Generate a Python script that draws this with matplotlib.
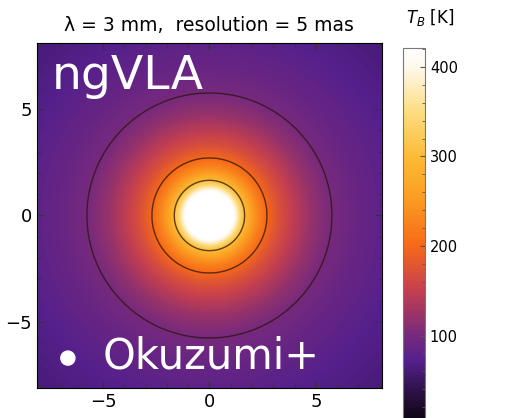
import numpy as np
import matplotlib.pyplot as plt
from matplotlib.colors import LinearSegmentedColormap
from matplotlib.patches import Circle

# radial brightness profile (r in image units, T_B in K)
r_prof = [0.0, 0.6, 1.0, 1.2, 1.4, 1.65, 2.0, 2.3, 2.7, 3.3, 4.0, 4.8, 5.75, 7.0, 8.0, 9.5, 11.5]
tb_prof = [520, 490, 440, 405, 350, 300, 255, 228, 200, 170, 145, 120, 100, 88, 80, 70, 62]

levels = [100, 200, 300]
cbar_ticks = [0, 100, 200, 300, 400]
ax_ticks = [-5, 0, 5]
beam_xy = (-6.65, -6.7)

cmap = LinearSegmentedColormap.from_list("tb", [
    (0.00, "#08040e"),
    (0.08, "#2a1040"),
    (0.17, "#55208c"),
    (0.24, "#782a7c"),
    (0.36, "#c6404e"),
    (0.48, "#f76a18"),
    (0.60, "#fb9c22"),
    (0.71, "#fcba34"),
    (0.83, "#fddc80"),
    (0.95, "#fff8ea"),
    (1.00, "#ffffff"),
])

# build the map from the profile
x = np.linspace(-8.1, 8.1, 400)
X, Y = np.meshgrid(x, x)
R = np.hypot(X, Y)
T = np.interp(R, r_prof, tb_prof)

fig = plt.figure(figsize=(5.13, 4.18), dpi=100)
ax = fig.add_axes([0.072, 0.072, 0.6725, 0.825])
im = ax.imshow(T, extent=[-8.1, 8.1, -8.1, 8.1], origin="lower",
               cmap=cmap, vmin=0, vmax=421, interpolation="bilinear")
ax.contour(X, Y, T, levels=levels, colors="#2a1508", linewidths=1.0, alpha=0.75)
ax.add_patch(Circle(beam_xy, 0.33, color="white"))

ax.text(-7.4, 5.95, "ngVLA", color="white", fontsize=34, family="DejaVu Sans")
ax.text(-5.0, -7.2, "Okuzumi+", color="white", fontsize=30, family="DejaVu Sans")

ax.set_xticks(ax_ticks)
ax.set_yticks(ax_ticks)
ax.set_xticklabels(["\u22125", "0", "5"])
ax.set_yticklabels(["\u22125", "0", "5"])
ax.set_xticks(np.arange(-8, 9, 1), minor=True)
ax.set_yticks(np.arange(-8, 9, 1), minor=True)
ax.tick_params(which="both", direction="in", top=True, right=True, color="#333333", labelsize=13)
ax.tick_params(which="major", length=5)
ax.tick_params(which="minor", length=3)
ax.set_xlim(-8.1, 8.1)
ax.set_ylim(-8.1, 8.1)
ax.set_title("\u03bb = 3 mm,  resolution = 5 mas", fontsize=13.5, pad=9)

cax = fig.add_axes([0.7856, -0.017, 0.043, 0.902])
cb = fig.colorbar(im, cax=cax, ticks=cbar_ticks)
cb.ax.set_yticks(np.arange(0, 421, 20), minor=True)
cb.ax.tick_params(which="both", direction="in", color="#555555", labelsize=10.5)
cb.outline.set_edgecolor("#777777")
fig.text(0.792, 0.945, "$T_B$ [K]", fontsize=12)

plt.savefig("out.png", dpi=100)
